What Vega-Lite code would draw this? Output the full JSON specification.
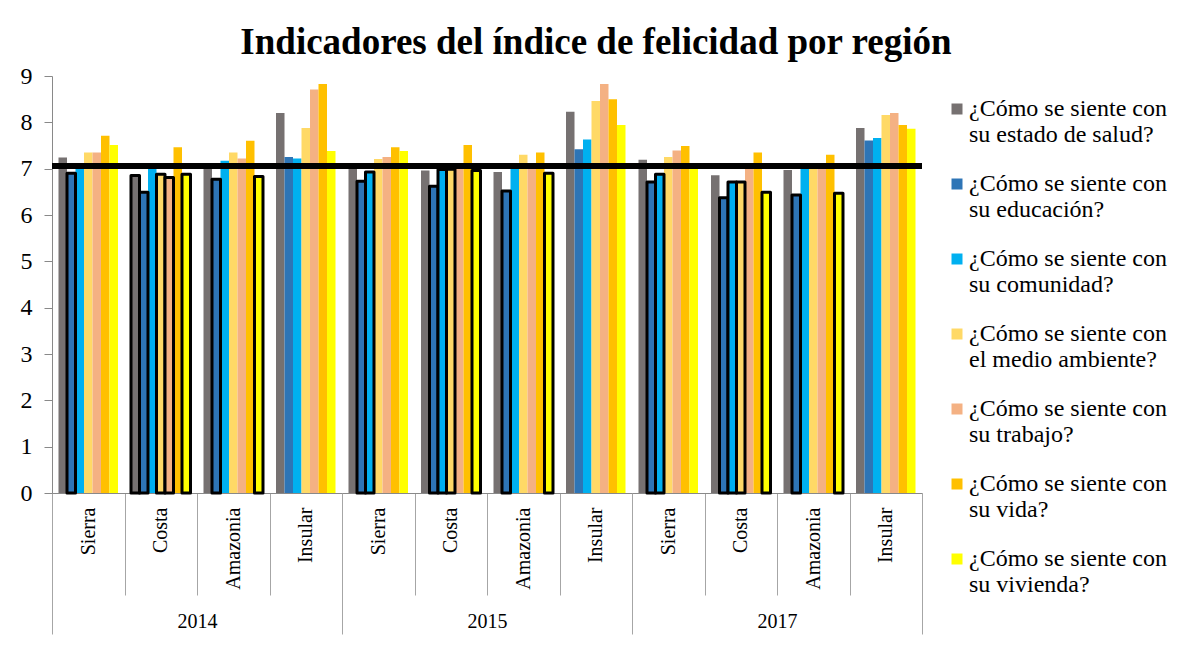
{
  "$schema": "https://vega.github.io/schema/vega-lite/v6.json",
  "autosize": {"type": "none"},
  "padding": {"left": 52, "top": 76, "right": 270, "bottom": 154},
  "width": 870,
  "height": 417,
  "background": "white",
  "config": {"view": {"stroke": null}, "font": "Liberation Serif"},
  "title": {
    "text": "Indicadores  del índice de felicidad por región",
    "font": "Liberation Serif",
    "fontSize": 37,
    "fontWeight": "bold",
    "color": "black",
    "anchor": "middle",
    "frame": "group",
    "dx": 109,
    "offset": 2
  },
  "data": {"values": [
    {"anio": "2014", "grupo": "2014 Sierra", "pregunta": "¿Cómo se siente con su estado de salud?", "valor": 7.24, "destacado": false},
    {"anio": "2014", "grupo": "2014 Sierra", "pregunta": "¿Cómo se siente con su educación?", "valor": 6.90, "destacado": true},
    {"anio": "2014", "grupo": "2014 Sierra", "pregunta": "¿Cómo se siente con su comunidad?", "valor": 7.02, "destacado": false},
    {"anio": "2014", "grupo": "2014 Sierra", "pregunta": "¿Cómo se siente con el medio ambiente?", "valor": 7.35, "destacado": false},
    {"anio": "2014", "grupo": "2014 Sierra", "pregunta": "¿Cómo se siente con su trabajo?", "valor": 7.35, "destacado": false},
    {"anio": "2014", "grupo": "2014 Sierra", "pregunta": "¿Cómo se siente con su vida?", "valor": 7.71, "destacado": false},
    {"anio": "2014", "grupo": "2014 Sierra", "pregunta": "¿Cómo se siente con su vivienda?", "valor": 7.51, "destacado": false},
    {"anio": "2014", "grupo": "2014 Costa", "pregunta": "¿Cómo se siente con su estado de salud?", "valor": 6.85, "destacado": true},
    {"anio": "2014", "grupo": "2014 Costa", "pregunta": "¿Cómo se siente con su educación?", "valor": 6.49, "destacado": true},
    {"anio": "2014", "grupo": "2014 Costa", "pregunta": "¿Cómo se siente con su comunidad?", "valor": 7.02, "destacado": false},
    {"anio": "2014", "grupo": "2014 Costa", "pregunta": "¿Cómo se siente con el medio ambiente?", "valor": 6.88, "destacado": true},
    {"anio": "2014", "grupo": "2014 Costa", "pregunta": "¿Cómo se siente con su trabajo?", "valor": 6.81, "destacado": true},
    {"anio": "2014", "grupo": "2014 Costa", "pregunta": "¿Cómo se siente con su vida?", "valor": 7.46, "destacado": false},
    {"anio": "2014", "grupo": "2014 Costa", "pregunta": "¿Cómo se siente con su vivienda?", "valor": 6.88, "destacado": true},
    {"anio": "2014", "grupo": "2014 Amazonia", "pregunta": "¿Cómo se siente con su estado de salud?", "valor": 7.03, "destacado": false},
    {"anio": "2014", "grupo": "2014 Amazonia", "pregunta": "¿Cómo se siente con su educación?", "valor": 6.77, "destacado": true},
    {"anio": "2014", "grupo": "2014 Amazonia", "pregunta": "¿Cómo se siente con su comunidad?", "valor": 7.17, "destacado": false},
    {"anio": "2014", "grupo": "2014 Amazonia", "pregunta": "¿Cómo se siente con el medio ambiente?", "valor": 7.35, "destacado": false},
    {"anio": "2014", "grupo": "2014 Amazonia", "pregunta": "¿Cómo se siente con su trabajo?", "valor": 7.22, "destacado": false},
    {"anio": "2014", "grupo": "2014 Amazonia", "pregunta": "¿Cómo se siente con su vida?", "valor": 7.60, "destacado": false},
    {"anio": "2014", "grupo": "2014 Amazonia", "pregunta": "¿Cómo se siente con su vivienda?", "valor": 6.83, "destacado": true},
    {"anio": "2014", "grupo": "2014 Insular", "pregunta": "¿Cómo se siente con su estado de salud?", "valor": 8.20, "destacado": false},
    {"anio": "2014", "grupo": "2014 Insular", "pregunta": "¿Cómo se siente con su educación?", "valor": 7.25, "destacado": false},
    {"anio": "2014", "grupo": "2014 Insular", "pregunta": "¿Cómo se siente con su comunidad?", "valor": 7.22, "destacado": false},
    {"anio": "2014", "grupo": "2014 Insular", "pregunta": "¿Cómo se siente con el medio ambiente?", "valor": 7.88, "destacado": false},
    {"anio": "2014", "grupo": "2014 Insular", "pregunta": "¿Cómo se siente con su trabajo?", "valor": 8.71, "destacado": false},
    {"anio": "2014", "grupo": "2014 Insular", "pregunta": "¿Cómo se siente con su vida?", "valor": 8.83, "destacado": false},
    {"anio": "2014", "grupo": "2014 Insular", "pregunta": "¿Cómo se siente con su vivienda?", "valor": 7.38, "destacado": false},
    {"anio": "2015", "grupo": "2015 Sierra", "pregunta": "¿Cómo se siente con su estado de salud?", "valor": 7.06, "destacado": false},
    {"anio": "2015", "grupo": "2015 Sierra", "pregunta": "¿Cómo se siente con su educación?", "valor": 6.73, "destacado": true},
    {"anio": "2015", "grupo": "2015 Sierra", "pregunta": "¿Cómo se siente con su comunidad?", "valor": 6.93, "destacado": true},
    {"anio": "2015", "grupo": "2015 Sierra", "pregunta": "¿Cómo se siente con el medio ambiente?", "valor": 7.21, "destacado": false},
    {"anio": "2015", "grupo": "2015 Sierra", "pregunta": "¿Cómo se siente con su trabajo?", "valor": 7.25, "destacado": false},
    {"anio": "2015", "grupo": "2015 Sierra", "pregunta": "¿Cómo se siente con su vida?", "valor": 7.46, "destacado": false},
    {"anio": "2015", "grupo": "2015 Sierra", "pregunta": "¿Cómo se siente con su vivienda?", "valor": 7.38, "destacado": false},
    {"anio": "2015", "grupo": "2015 Costa", "pregunta": "¿Cómo se siente con su estado de salud?", "valor": 6.96, "destacado": false},
    {"anio": "2015", "grupo": "2015 Costa", "pregunta": "¿Cómo se siente con su educación?", "valor": 6.62, "destacado": true},
    {"anio": "2015", "grupo": "2015 Costa", "pregunta": "¿Cómo se siente con su comunidad?", "valor": 6.98, "destacado": true},
    {"anio": "2015", "grupo": "2015 Costa", "pregunta": "¿Cómo se siente con el medio ambiente?", "valor": 6.99, "destacado": true},
    {"anio": "2015", "grupo": "2015 Costa", "pregunta": "¿Cómo se siente con su trabajo?", "valor": 7.03, "destacado": false},
    {"anio": "2015", "grupo": "2015 Costa", "pregunta": "¿Cómo se siente con su vida?", "valor": 7.51, "destacado": false},
    {"anio": "2015", "grupo": "2015 Costa", "pregunta": "¿Cómo se siente con su vivienda?", "valor": 6.96, "destacado": true},
    {"anio": "2015", "grupo": "2015 Amazonia", "pregunta": "¿Cómo se siente con su estado de salud?", "valor": 6.93, "destacado": false},
    {"anio": "2015", "grupo": "2015 Amazonia", "pregunta": "¿Cómo se siente con su educación?", "valor": 6.52, "destacado": true},
    {"anio": "2015", "grupo": "2015 Amazonia", "pregunta": "¿Cómo se siente con su comunidad?", "valor": 7.03, "destacado": false},
    {"anio": "2015", "grupo": "2015 Amazonia", "pregunta": "¿Cómo se siente con el medio ambiente?", "valor": 7.30, "destacado": false},
    {"anio": "2015", "grupo": "2015 Amazonia", "pregunta": "¿Cómo se siente con su trabajo?", "valor": 7.04, "destacado": false},
    {"anio": "2015", "grupo": "2015 Amazonia", "pregunta": "¿Cómo se siente con su vida?", "valor": 7.35, "destacado": false},
    {"anio": "2015", "grupo": "2015 Amazonia", "pregunta": "¿Cómo se siente con su vivienda?", "valor": 6.90, "destacado": true},
    {"anio": "2015", "grupo": "2015 Insular", "pregunta": "¿Cómo se siente con su estado de salud?", "valor": 8.23, "destacado": false},
    {"anio": "2015", "grupo": "2015 Insular", "pregunta": "¿Cómo se siente con su educación?", "valor": 7.42, "destacado": false},
    {"anio": "2015", "grupo": "2015 Insular", "pregunta": "¿Cómo se siente con su comunidad?", "valor": 7.63, "destacado": false},
    {"anio": "2015", "grupo": "2015 Insular", "pregunta": "¿Cómo se siente con el medio ambiente?", "valor": 8.46, "destacado": false},
    {"anio": "2015", "grupo": "2015 Insular", "pregunta": "¿Cómo se siente con su trabajo?", "valor": 8.83, "destacado": false},
    {"anio": "2015", "grupo": "2015 Insular", "pregunta": "¿Cómo se siente con su vida?", "valor": 8.50, "destacado": false},
    {"anio": "2015", "grupo": "2015 Insular", "pregunta": "¿Cómo se siente con su vivienda?", "valor": 7.94, "destacado": false},
    {"anio": "2017", "grupo": "2017 Sierra", "pregunta": "¿Cómo se siente con su estado de salud?", "valor": 7.19, "destacado": false},
    {"anio": "2017", "grupo": "2017 Sierra", "pregunta": "¿Cómo se siente con su educación?", "valor": 6.71, "destacado": true},
    {"anio": "2017", "grupo": "2017 Sierra", "pregunta": "¿Cómo se siente con su comunidad?", "valor": 6.88, "destacado": true},
    {"anio": "2017", "grupo": "2017 Sierra", "pregunta": "¿Cómo se siente con el medio ambiente?", "valor": 7.25, "destacado": false},
    {"anio": "2017", "grupo": "2017 Sierra", "pregunta": "¿Cómo se siente con su trabajo?", "valor": 7.39, "destacado": false},
    {"anio": "2017", "grupo": "2017 Sierra", "pregunta": "¿Cómo se siente con su vida?", "valor": 7.49, "destacado": false},
    {"anio": "2017", "grupo": "2017 Sierra", "pregunta": "¿Cómo se siente con su vivienda?", "valor": 7.04, "destacado": false},
    {"anio": "2017", "grupo": "2017 Costa", "pregunta": "¿Cómo se siente con su estado de salud?", "valor": 6.86, "destacado": false},
    {"anio": "2017", "grupo": "2017 Costa", "pregunta": "¿Cómo se siente con su educación?", "valor": 6.37, "destacado": true},
    {"anio": "2017", "grupo": "2017 Costa", "pregunta": "¿Cómo se siente con su comunidad?", "valor": 6.71, "destacado": true},
    {"anio": "2017", "grupo": "2017 Costa", "pregunta": "¿Cómo se siente con el medio ambiente?", "valor": 6.71, "destacado": true},
    {"anio": "2017", "grupo": "2017 Costa", "pregunta": "¿Cómo se siente con su trabajo?", "valor": 7.03, "destacado": false},
    {"anio": "2017", "grupo": "2017 Costa", "pregunta": "¿Cómo se siente con su vida?", "valor": 7.35, "destacado": false},
    {"anio": "2017", "grupo": "2017 Costa", "pregunta": "¿Cómo se siente con su vivienda?", "valor": 6.49, "destacado": true},
    {"anio": "2017", "grupo": "2017 Amazonia", "pregunta": "¿Cómo se siente con su estado de salud?", "valor": 6.97, "destacado": false},
    {"anio": "2017", "grupo": "2017 Amazonia", "pregunta": "¿Cómo se siente con su educación?", "valor": 6.43, "destacado": true},
    {"anio": "2017", "grupo": "2017 Amazonia", "pregunta": "¿Cómo se siente con su comunidad?", "valor": 7.03, "destacado": false},
    {"anio": "2017", "grupo": "2017 Amazonia", "pregunta": "¿Cómo se siente con el medio ambiente?", "valor": 7.03, "destacado": false},
    {"anio": "2017", "grupo": "2017 Amazonia", "pregunta": "¿Cómo se siente con su trabajo?", "valor": 7.03, "destacado": false},
    {"anio": "2017", "grupo": "2017 Amazonia", "pregunta": "¿Cómo se siente con su vida?", "valor": 7.30, "destacado": false},
    {"anio": "2017", "grupo": "2017 Amazonia", "pregunta": "¿Cómo se siente con su vivienda?", "valor": 6.47, "destacado": true},
    {"anio": "2017", "grupo": "2017 Insular", "pregunta": "¿Cómo se siente con su estado de salud?", "valor": 7.88, "destacado": false},
    {"anio": "2017", "grupo": "2017 Insular", "pregunta": "¿Cómo se siente con su educación?", "valor": 7.61, "destacado": false},
    {"anio": "2017", "grupo": "2017 Insular", "pregunta": "¿Cómo se siente con su comunidad?", "valor": 7.66, "destacado": false},
    {"anio": "2017", "grupo": "2017 Insular", "pregunta": "¿Cómo se siente con el medio ambiente?", "valor": 8.16, "destacado": false},
    {"anio": "2017", "grupo": "2017 Insular", "pregunta": "¿Cómo se siente con su trabajo?", "valor": 8.20, "destacado": false},
    {"anio": "2017", "grupo": "2017 Insular", "pregunta": "¿Cómo se siente con su vida?", "valor": 7.94, "destacado": false},
    {"anio": "2017", "grupo": "2017 Insular", "pregunta": "¿Cómo se siente con su vivienda?", "valor": 7.86, "destacado": false}
  ]},
  "layer": [
    {
      "encoding": {
        "x": {
          "field": "grupo", "type": "nominal",
          "scale": {
            "domain": ["2014 Sierra", "2014 Costa", "2014 Amazonia", "2014 Insular", "2015 Sierra", "2015 Costa", "2015 Amazonia", "2015 Insular", "2017 Sierra", "2017 Costa", "2017 Amazonia", "2017 Insular"],
            "paddingInner": 0, "paddingOuter": 0
          },
          "axis": {
            "orient": "bottom", "title": null,
            "labelExpr": "split(datum.label, ' ')[1]",
            "labelAngle": -90, "labelFont": "Liberation Serif", "labelFontSize": 20, "labelColor": "black",
            "tickBand": "extent", "tickSize": 102, "tickColor": "#a6a6a6", "tickWidth": 1,
            "domainColor": "#898989", "labelPadding": -88
          }
        },
        "xOffset": {
          "field": "pregunta", "type": "nominal",
          "scale": {
            "domain": ["¿Cómo se siente con su estado de salud?", "¿Cómo se siente con su educación?", "¿Cómo se siente con su comunidad?", "¿Cómo se siente con el medio ambiente?", "¿Cómo se siente con su trabajo?", "¿Cómo se siente con su vida?", "¿Cómo se siente con su vivienda?"],
            "paddingInner": 0, "paddingOuter": 0.765
          }
        },
        "y": {
          "field": "valor", "type": "quantitative", "stack": null,
          "scale": {"domain": [0, 9], "nice": false},
          "axis": {
            "title": null, "values": [0, 1, 2, 3, 4, 5, 6, 7, 8, 9], "grid": false,
            "labelFont": "Liberation Serif", "labelFontSize": 24, "labelColor": "black", "labelPadding": 12,
            "tickSize": 8, "tickColor": "#898989", "domainColor": "#898989"
          }
        },
        "color": {
          "field": "pregunta", "type": "nominal",
          "scale": {
            "domain": ["¿Cómo se siente con su estado de salud?", "¿Cómo se siente con su educación?", "¿Cómo se siente con su comunidad?", "¿Cómo se siente con el medio ambiente?", "¿Cómo se siente con su trabajo?", "¿Cómo se siente con su vida?", "¿Cómo se siente con su vivienda?"],
            "range": ["#767171", "#2E75B6", "#00B0F0", "#FFD966", "#F4B183", "#FFC000", "#FFFF00"]
          },
          "legend": {
            "orient": "none", "legendX": 893, "legendY": 21, "title": null, "padding": 0,
            "symbolType": "square", "symbolSize": 121, "symbolStrokeWidth": 0, "symbolOpacity": 1,
            "labelFont": "Liberation Serif", "labelFontSize": 24, "labelColor": "black", "labelOffset": 0,
            "labelLimit": 400, "labelBaseline": "middle", "rowPadding": 25,
            "labelExpr": "[slice(datum.label, 0, 19), slice(datum.label, 20)]"
          }
        }
      },
      "layer": [
        {"transform": [{"filter": "!datum.destacado"}], "mark": {"type": "bar"}},
        {"transform": [{"filter": "datum.destacado"}], "mark": {"type": "bar", "stroke": "black", "strokeWidth": 3, "strokeJoin": "round"}}
      ]
    },
    {
      "mark": {"type": "rule", "color": "black", "strokeWidth": 6},
      "encoding": {"y": {"datum": 7.06, "type": "quantitative"}}
    },
    {
      "mark": {"type": "point", "opacity": 0},
      "encoding": {
        "x": {
          "field": "anio", "type": "nominal",
          "scale": {"paddingInner": 0, "paddingOuter": 0},
          "axis": {
            "orient": "bottom", "title": null, "domain": false, "labelAngle": 0,
            "labelFont": "Liberation Serif", "labelFontSize": 20, "labelColor": "black",
            "tickBand": "extent", "tickSize": 141, "tickColor": "#a6a6a6", "tickWidth": 1,
            "labelPadding": -23
          }
        },
        "y": {"datum": 0, "type": "quantitative"}
      }
    }
  ],
  "resolve": {"scale": {"x": "independent"}}
}
